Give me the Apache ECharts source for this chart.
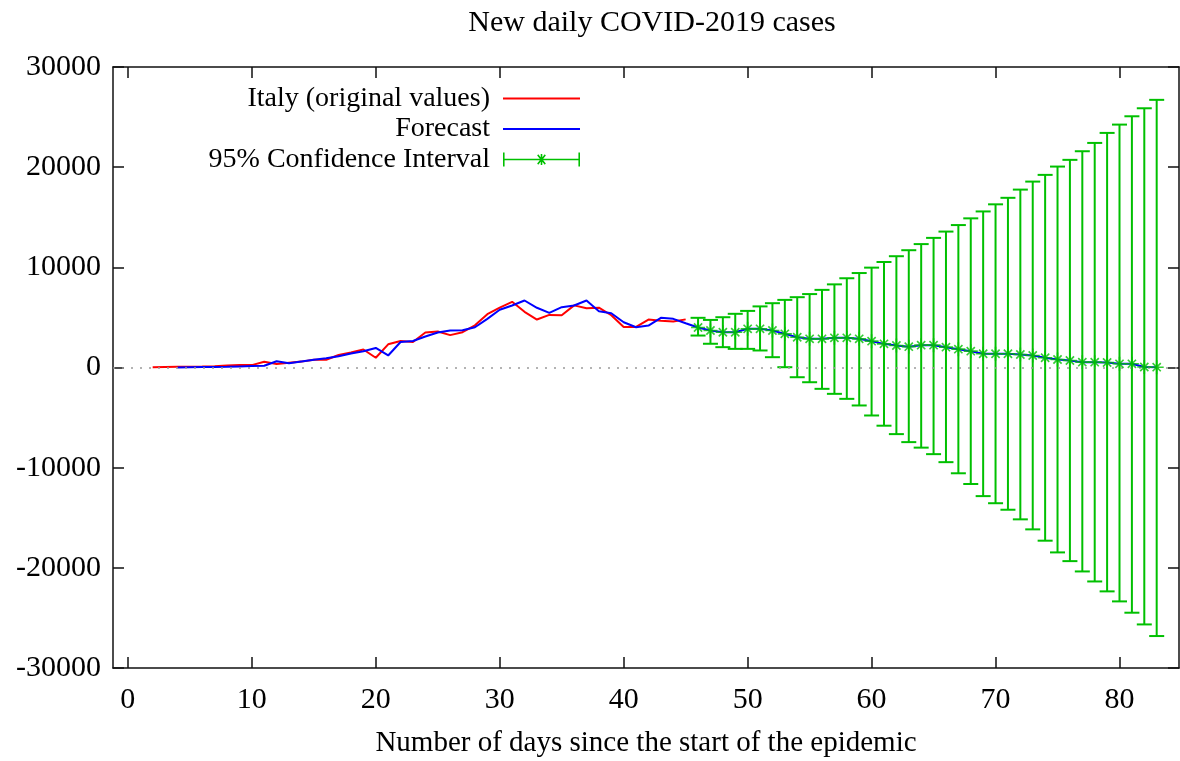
<!DOCTYPE html>
<html>
<head>
<meta charset="utf-8">
<title>New daily COVID-2019 cases</title>
<script src="https://cdn.jsdelivr.net/npm/echarts@6/dist/echarts.min.js"></script>
<style>
  html, body { margin: 0; padding: 0; background: #fff; }
  #main { width: 1180px; height: 761px; }
</style>
</head>
<body>
<div id="main"></div>
<script>
// observed new daily cases, from day 2
const italyStart = 2;
const italyCases = [20, 59, 71, 77, 93, 125, 205, 238, 240, 566,
  342, 466, 587, 769, 778, 1247, 1492, 1797, 977, 2313,
  2651, 2547, 3497, 3590, 3233, 3526, 4207, 5322, 5986, 6557,
  5560, 4789, 5249, 5210, 6203, 5909, 5974, 5217, 4050, 4053,
  4782, 4668, 4585, 4805];

// forecast fitted on the observed period, from day 4
const fitStart = 4;
const forecastFitted = [0, 20, 40, 60, 80, 110, 140, 170, 630, 430,
  600, 770, 930, 1130, 1400, 1630, 1950, 1200, 2550, 2650,
  3100, 3500, 3690, 3720, 4020, 4860, 5760, 6190, 6690, 5960,
  5460, 6020, 6190, 6690, 5620, 5420, 4520, 4020, 4190, 4960,
  4860, 4420];

// out of sample forecast with 95% interval, from day 46
const ciStart = 46;
const ciCenter = [3990, 3690, 3520, 3520, 3860, 3860, 3690, 3360, 3020, 2860,
  2860, 2960, 2960, 2860, 2630, 2360, 2200, 2080, 2230, 2230,
  2030, 1830, 1630, 1370, 1370, 1370, 1300, 1200, 970, 800,
  700, 530, 530, 500, 370, 370, 50, 30];
const ciLower = [3190, 2370, 2030, 1860, 1860, 1700, 1030, 30, -970, -1470,
  -2130, -2630, -3130, -3790, -4790, -5810, -6650, -7450, -8000, -8650,
  -9450, -10560, -11630, -12840, -13550, -14200, -15160, -16160, -17290, -18460,
  -19330, -20360, -21360, -22350, -23350, -24480, -25650, -26810];
const ciUpper = [4960, 4750, 5020, 5360, 5650, 6100, 6420, 6750, 7020, 7330,
  7750, 8300, 8910, 9430, 9970, 10530, 11110, 11710, 12320, 12940,
  13570, 14220, 14890, 15580, 16290, 16940, 17760, 18560, 19230, 20060,
  20730, 21590, 22420, 23420, 24250, 25080, 25880, 26720];

const xTicks = [0, 10, 20, 30, 40, 50, 60, 70, 80];

const serif = '"Liberation Serif", "Times New Roman", serif';
const green = '#00c000';
const toPairs = (start, vals) => vals.map((v, i) => [start + i, v]);

const starPath = 'path://M5.3,0H6.7V12H5.3Z M0,5.3H12V6.7H0Z M2,3L3,2L10,9L9,10Z M9,2L10,3L3,10L2,9Z';
const ciIcon = 'path://M0,0H1.6V14H0Z M76.4,0H78V14H76.4Z M0,6.2H78V7.8H0Z M38.2,1.5H39.8V12.5H38.2Z M34.6,2.9L35.7,1.8L43.4,11.1L42.3,12.2Z M42.3,1.8L43.4,2.9L35.7,12.2L34.6,11.1Z';

const axisLineStyle = { color: '#111', width: 1.5 };
const labelStyle = { fontFamily: serif, fontSize: 30, color: '#000' };

function xAxisCfg(pos, withLabels) {
  return {
    type: 'value', position: pos, min: -1.2, max: 84.8, splitNumber: 9,
    axisLine: { show: true, onZero: false, lineStyle: axisLineStyle },
    axisTick: { show: true, inside: true, length: 11, customValues: xTicks, lineStyle: axisLineStyle },
    axisLabel: Object.assign({ show: withLabels, margin: 17, customValues: xTicks,
      formatter: v => (v % 10 === 0 ? String(v) : '') }, labelStyle),
    splitLine: { show: false }
  };
}
function yAxisCfg(pos, withLabels) {
  return {
    type: 'value', position: pos, min: -30000, max: 30000, interval: 10000,
    axisLine: { show: true, onZero: false, lineStyle: axisLineStyle },
    axisTick: { show: true, inside: true, length: 11, lineStyle: axisLineStyle },
    axisLabel: Object.assign({ show: withLabels, margin: 12, formatter: v => String(v) }, labelStyle),
    splitLine: { show: false }
  };
}

const xBottom = xAxisCfg('bottom', true);
xBottom.name = 'Number of days since the start of the epidemic';
xBottom.nameLocation = 'middle';
xBottom.nameGap = 61;
xBottom.nameTextStyle = { fontFamily: serif, fontSize: 29, color: '#000' };

const chart = echarts.init(document.getElementById('main'), null, { renderer: 'canvas' });
chart.setOption({
  animation: false,
  backgroundColor: '#fff',
  title: {
    text: 'New daily COVID-2019 cases',
    left: 647, top: 3, textAlign: 'center',
    textStyle: { fontFamily: serif, fontSize: 30, fontWeight: 'normal', color: '#000' }
  },
  legend: {
    orient: 'vertical', right: 595, top: 79, align: 'right',
    itemWidth: 77, itemHeight: 14, itemGap: 1.5,
    textStyle: { fontFamily: serif, fontSize: 28, color: '#000', lineHeight: 29, padding: [0, 8, 0, 0] },
    data: [
      { name: 'Italy (original values)', icon: 'path://M0,0H80V2H0Z', itemStyle: { borderWidth: 0 } },
      { name: 'Forecast', icon: 'path://M0,0H80V2H0Z', itemStyle: { borderWidth: 0 } },
      { name: '95% Confidence Interval', icon: ciIcon, itemStyle: { borderWidth: 0 } }
    ]
  },
  grid: { left: 113, right: 1, top: 67, bottom: 93, outerBoundsMode: 'none' },
  xAxis: [xBottom, xAxisCfg('top', false)],
  yAxis: [yAxisCfg('left', true), yAxisCfg('right', false)],
  series: [
    {
      name: 'Italy (original values)', type: 'line', z: 2,
      data: toPairs(italyStart, italyCases),
      symbol: 'none', color: '#ff0000',
      lineStyle: { color: '#ff0000', width: 2 },
      markLine: {
        silent: true, symbol: 'none', label: { show: false },
        lineStyle: { color: '#9a9a9a', type: [2, 7], width: 1.5 },
        data: [{ yAxis: 0 }]
      }
    },
    {
      name: 'Forecast', type: 'line', z: 3,
      data: toPairs(fitStart, forecastFitted.concat(ciCenter)),
      symbol: 'none', color: '#0000ff',
      lineStyle: { color: '#0000ff', width: 2 }
    },
    {
      name: '95% Confidence Interval', type: 'custom', z: 4,
      color: green,
      data: ciLower.map((lo, i) => [ciStart + i, lo, ciUpper[i]]),
      encode: { x: 0, y: [1, 2] },
      renderItem: function (params, api) {
        const x = api.value(0);
        const lo = api.coord([x, api.value(1)]);
        const hi = api.coord([x, api.value(2)]);
        const cap = 7.5;
        const style = { stroke: green, lineWidth: 2 };
        return {
          type: 'group',
          children: [
            { type: 'line', shape: { x1: lo[0], y1: lo[1], x2: hi[0], y2: hi[1] }, style: style },
            { type: 'line', shape: { x1: lo[0] - cap, y1: lo[1], x2: lo[0] + cap, y2: lo[1] }, style: style },
            { type: 'line', shape: { x1: hi[0] - cap, y1: hi[1], x2: hi[0] + cap, y2: hi[1] }, style: style }
          ]
        };
      }
    },
    {
      name: '95% Confidence Interval', type: 'scatter', z: 5,
      data: toPairs(ciStart, ciCenter),
      symbol: starPath, symbolSize: 14,
      itemStyle: { color: green }
    }
  ]
});
</script>
</body>
</html>
